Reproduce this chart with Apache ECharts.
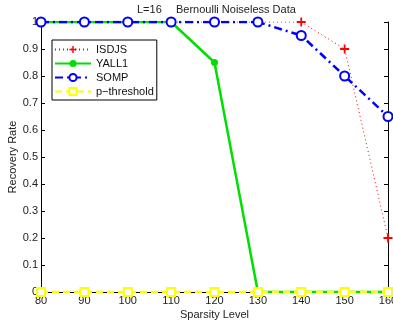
<!DOCTYPE html>
<html><head><meta charset="utf-8">
<script src="https://cdn.jsdelivr.net/npm/echarts@6/dist/echarts.min.js"></script>
<style>html,body{margin:0;padding:0;background:#fff}#c{width:393px;height:322px}</style>
</head><body><div id="c"></div>
<script>
const categories = [80, 90, 100, 110, 120, 130, 140, 150, 160];
const isdjs = [1, 1, 1, 1, 1, 1, 1, 0.9, 0.2];
const yall1 = [1, 1, 1, 1, 0.85, 0, 0, 0, 0];
const somp = [1, 1, 1, 1, 1, 1, 0.95, 0.8, 0.65];
const pthreshold = [0, 0, 0, 0, 0, 0, 0, 0, 0];
const xTicks = [80, 90, 100, 110, 120, 130, 140, 150, 160];
const yTicks = [0, 0.1, 0.2, 0.3, 0.4, 0.5, 0.6, 0.7, 0.8, 0.9, 1];

const pair = arr => arr.map((v, i) => [categories[i], v]);
const font = 'Liberation Sans, Arial, sans-serif';
const plus = 'path://M4,0H6V4H10V6H6V10H4V6H0V4H4Z';

const chart = echarts.init(document.getElementById('c'), null, {renderer: 'canvas'});
const axisCommon = {
  axisLine: {show: true, lineStyle: {color: '#000', width: 1}},
  axisTick: {show: true, inside: true, length: 4, lineStyle: {color: '#000'}},
  splitLine: {show: false}
};
chart.setOption({
  animation: false,
  textStyle: {fontFamily: font},
  title: [
    {text: 'L=16', left: 137, top: 4, padding: 0, textStyle: {fontSize: 11, fontWeight: 'normal', color: '#222', fontFamily: font}},
    {text: 'Bernoulli Noiseless Data', left: 176, top: 4, padding: 0, textStyle: {fontSize: 11, fontWeight: 'normal', color: '#222', fontFamily: font}}
  ],
  grid: {left: 41, right: 5, top: 22, bottom: 30, containLabel: false, outerBoundsMode: 'none'},
  legend: {
    orient: 'vertical', left: 52, top: 40, padding: [4, 3, 3, 2],
    backgroundColor: '#fff', borderColor: '#000', borderWidth: 1,
    itemWidth: 36, itemHeight: 9, itemGap: 3,
    textStyle: {fontSize: 11, color: '#111', fontFamily: font},
    data: ['ISDJS', 'YALL1', 'SOMP', 'p\u2212threshold']
  },
  xAxis: [
    Object.assign({type: 'value', min: 80, max: 160, interval: 10,
      name: 'Sparsity Level', nameLocation: 'middle', nameGap: 17, nameMoveOverlap: false,
      nameTextStyle: {fontSize: 11, color: '#222'},
      axisLabel: {fontSize: 11, color: '#222', margin: 3, formatter: v => xTicks.includes(v) ? String(v) : ''}}, axisCommon),
    Object.assign({type: 'value', min: 80, max: 160, interval: 10, position: 'top',
      axisLabel: {show: false}}, axisCommon)
  ],
  yAxis: [
    Object.assign({type: 'value', min: 0, max: 1, interval: 0.1,
      name: 'Recovery Rate', nameLocation: 'middle', nameGap: 23, nameMoveOverlap: false,
      nameTextStyle: {fontSize: 11, color: '#222'},
      axisLabel: {fontSize: 11, color: '#222', margin: 3, formatter: v => {
        const t = yTicks.find(y => Math.abs(y - v) < 1e-9); return t === undefined ? '' : String(t); }}}, axisCommon),
    Object.assign({type: 'value', min: 0, max: 1, interval: 0.1, position: 'right',
      axisLabel: {show: false}}, axisCommon)
  ],
  series: [
    {name: 'ISDJS', type: 'line', data: pair(isdjs), symbol: plus, symbolSize: 9,
      lineStyle: {color: '#ff0000', width: 1, type: [1, 3]},
      itemStyle: {color: '#ff0000', borderWidth: 0}},
    {name: 'YALL1', type: 'line', data: pair(yall1), symbol: 'circle', symbolSize: 7,
      lineStyle: {color: '#00e000', width: 2.5},
      itemStyle: {color: '#00e000', borderWidth: 0}},
    {name: 'SOMP', type: 'line', data: pair(somp), symbol: 'emptyCircle', symbolSize: 9,
      lineStyle: {color: '#0000ff', width: 2.5, type: [8, 4, 2, 4]},
      itemStyle: {color: '#0000ff', borderWidth: 2}},
    {name: 'p\u2212threshold', type: 'line', data: pair(pthreshold), symbol: 'emptyRect', symbolSize: 8,
      lineStyle: {color: '#ffff00', width: 2.5, type: [7, 4]},
      itemStyle: {color: '#ffff00', borderWidth: 2}}
  ]
});
</script></body></html>
